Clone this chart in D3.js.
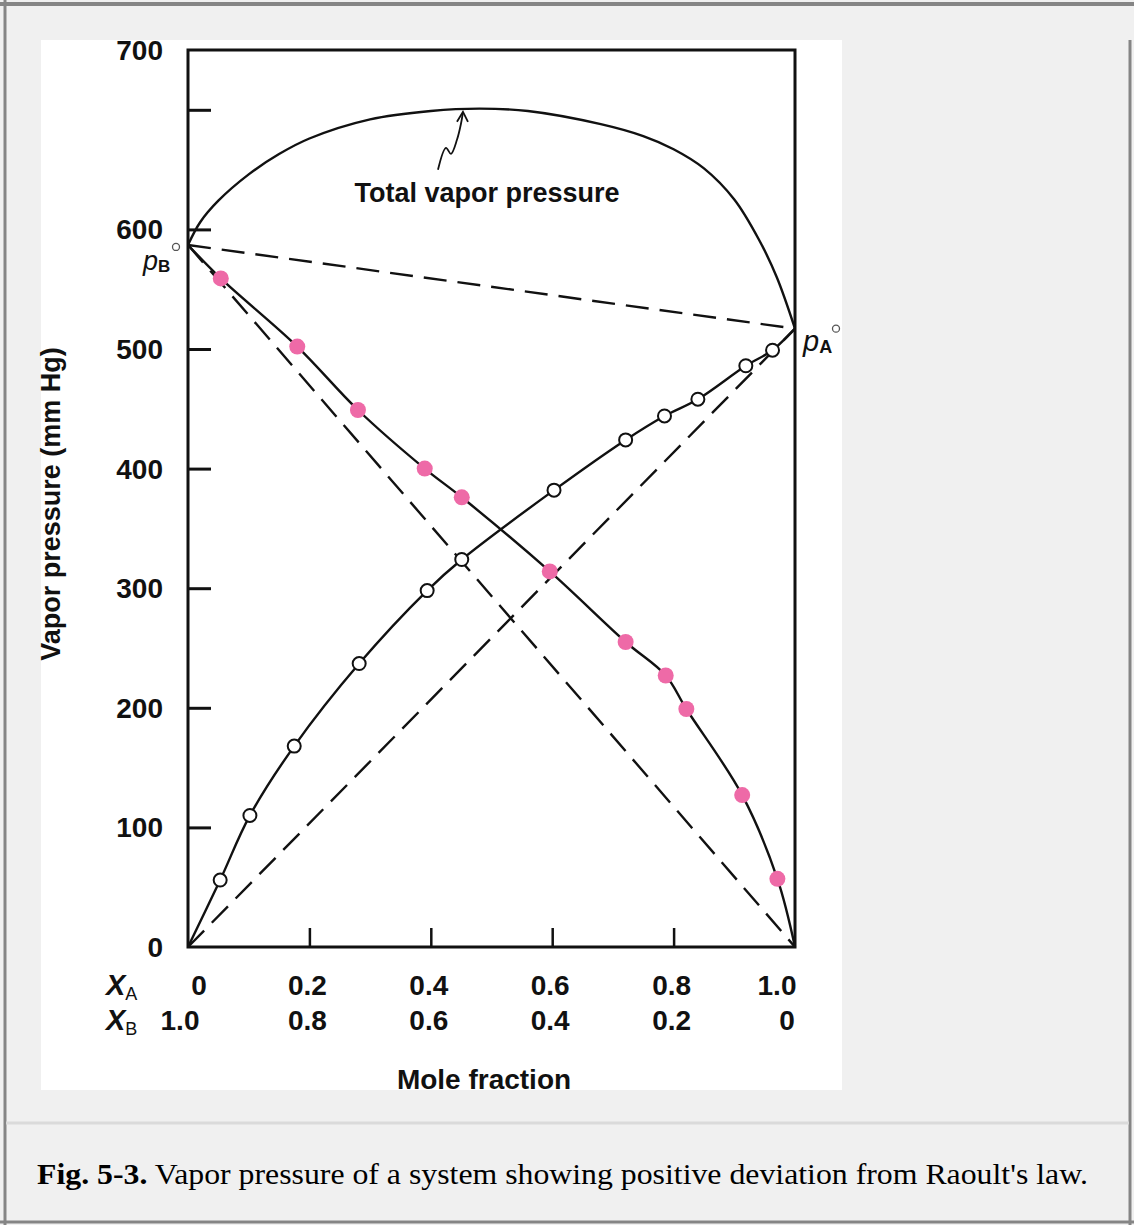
<!DOCTYPE html>
<html>
<head>
<meta charset="utf-8">
<script src="https://cdn.jsdelivr.net/npm/d3@7"></script>
<style>
  body { margin: 0; background: #f0f0f0; }
  svg { display: block; }
  .lbl { font-family: "Liberation Sans", Arial, sans-serif; font-weight: bold; fill: #111; }
</style>
</head>
<body>
<svg id="chart" width="1134" height="1225"></svg>
<script>
// Tick values and labels
var yTickMarks = [100, 200, 300, 400, 500, 600, 700];
var yTickLabels = ["0", "100", "200", "300", "400", "500", "600"];
var xTickMarks = [0.2, 0.4, 0.6, 0.8];
var xaLabels = ["0", "0.2", "0.4", "0.6", "0.8", "1.0"];
var xbLabels = ["1.0", "0.8", "0.6", "0.4", "0.2", "0"];
var xLabelPos = [0, 0.2, 0.4, 0.6, 0.8, 1.0];

// Pure component vapor pressures (mm Hg)
var pB0 = 587;
var pA0 = 517;

// Partial pressure of A (open circles)
var xA_A = [0.053, 0.102, 0.175, 0.282, 0.394, 0.451, 0.603, 0.721, 0.785, 0.840, 0.919, 0.963];
var pA = [56, 110, 168, 237, 298, 324, 382, 424, 444, 458, 486, 499];

// Partial pressure of B (pink dots)
var xA_B = [0.054, 0.180, 0.280, 0.390, 0.451, 0.596, 0.721, 0.787, 0.821, 0.913, 0.971];
var pB = [559, 502, 449, 400, 376, 314, 255, 227, 199, 127, 57];

// Total vapor pressure curve
var totalX = [0, 0.02, 0.05, 0.1, 0.15, 0.2, 0.3, 0.4, 0.48, 0.56, 0.68, 0.75, 0.8, 0.85, 0.9, 0.94, 0.97, 1.0];
var totalP = [587, 606, 624, 646, 663, 676, 692, 699, 701, 699, 688, 678, 667, 651, 625, 592, 560, 517];

var svg = d3.select('#chart');

// page frame
svg.append('rect').attr('x', 0).attr('y', 0).attr('width', 1134).attr('height', 1225).attr('fill', '#f0f0f0');
svg.append('line').attr('x1', 0).attr('x2', 1134).attr('y1', 4).attr('y2', 4).attr('stroke', '#858585').attr('stroke-width', 4);
svg.append('line').attr('x1', 5).attr('x2', 5).attr('y1', 0).attr('y2', 1225).attr('stroke', '#858585').attr('stroke-width', 3);
svg.append('line').attr('x1', 1130).attr('x2', 1130).attr('y1', 40).attr('y2', 1225).attr('stroke', '#858585').attr('stroke-width', 3);
svg.append('line').attr('x1', 0).attr('x2', 1134).attr('y1', 1222).attr('y2', 1222).attr('stroke', '#858585').attr('stroke-width', 3);
svg.append('line').attr('x1', 6).attr('x2', 1129).attr('y1', 1123).attr('y2', 1123).attr('stroke', '#dadada').attr('stroke-width', 3);
svg.append('rect').attr('x', 41).attr('y', 40).attr('width', 801).attr('height', 1050).attr('fill', '#fff');

var x = d3.scaleLinear().domain([0, 1]).range([188, 795]);
var y = d3.scaleLinear().domain([0, 750]).range([947, 50]);

var g = svg.append('g');

// inward ticks on the y axis
g.append('g')
  .attr('transform', 'translate(' + x(0) + ',0)')
  .call(d3.axisRight(y).tickValues(yTickMarks).tickSize(23).tickFormat(''))
  .call(function(s) { s.select('.domain').remove(); s.selectAll('line').attr('stroke', '#111').attr('stroke-width', 3); });

// inward ticks on the x axis
g.append('g')
  .attr('transform', 'translate(0,' + y(0) + ')')
  .call(d3.axisTop(x).tickValues(xTickMarks).tickSize(19).tickFormat(''))
  .call(function(s) { s.select('.domain').remove(); s.selectAll('line').attr('stroke', '#111').attr('stroke-width', 2.5); });

// y tick labels (the 700 label sits at the top of the frame)
g.selectAll('.ylab')
  .data(yTickLabels)
  .enter().append('text')
  .attr('class', 'lbl')
  .attr('x', x(0) - 25)
  .attr('y', function(d) { return y(+d); })
  .attr('dy', '0.36em')
  .attr('text-anchor', 'end')
  .attr('font-size', 28)
  .text(function(d) { return d; });
g.append('text').attr('class', 'lbl')
  .attr('x', x(0) - 25).attr('y', y(750)).attr('dy', '0.36em')
  .attr('text-anchor', 'end').attr('font-size', 28).text('700');

// dashed Raoult's law lines
var dash = '23,11';
function seg(x1, y1, x2, y2) {
  g.append('line')
    .attr('x1', x(x1)).attr('y1', y(y1)).attr('x2', x(x2)).attr('y2', y(y2))
    .attr('stroke', '#111').attr('stroke-width', 2.4).attr('stroke-dasharray', dash);
}
seg(0, 0, 1, pA0);
seg(0, pB0, 1, 0);
seg(0, pB0, 1, pA0);

// solid curves
var line = d3.line().x(function(d) { return x(d[0]); }).y(function(d) { return y(d[1]); }).curve(d3.curveCatmullRom.alpha(0.5));

var curveA = [[0, 0]].concat(xA_A.map(function(v, i) { return [v, pA[i]]; }), [[1, pA0]]);
var curveB = [[0, pB0]].concat(xA_B.map(function(v, i) { return [v, pB[i]]; }), [[1, 0]]);
var curveT = totalX.map(function(v, i) { return [v, totalP[i]]; });

[curveA, curveB, curveT].forEach(function(c) {
  g.append('path').attr('d', line(c)).attr('fill', 'none').attr('stroke', '#111').attr('stroke-width', 2.4);
});

// frame
g.append('rect')
  .attr('x', x(0)).attr('y', y(750))
  .attr('width', x(1) - x(0)).attr('height', y(0) - y(750))
  .attr('fill', 'none').attr('stroke', '#111').attr('stroke-width', 3);

// markers
g.selectAll('.ca')
  .data(xA_A)
  .enter().append('circle')
  .attr('cx', function(d) { return x(d); })
  .attr('cy', function(d, i) { return y(pA[i]); })
  .attr('r', 6.5)
  .attr('fill', '#fff').attr('stroke', '#111').attr('stroke-width', 2);

g.selectAll('.cb')
  .data(xA_B)
  .enter().append('circle')
  .attr('cx', function(d) { return x(d); })
  .attr('cy', function(d, i) { return y(pB[i]); })
  .attr('r', 8)
  .attr('fill', '#ee6aa7');

// p_B and p_A labels
var pb = g.append('text').attr('class', 'lbl').attr('x', x(0) - 45).attr('y', y(pB0) + 25).attr('font-size', 27);
pb.append('tspan').attr('font-style', 'italic').attr('font-weight', 'normal').text('p');
pb.append('tspan').attr('font-size', 17).attr('dy', 2).text('B');
g.append('circle').attr('cx', x(0) - 12).attr('cy', y(pB0) + 2).attr('r', 3.5).attr('fill', 'none').attr('stroke', '#555').attr('stroke-width', 1.3);

var pa = g.append('text').attr('class', 'lbl').attr('x', x(1) + 8).attr('y', y(pA0) + 22).attr('font-size', 29);
pa.append('tspan').attr('font-style', 'italic').attr('font-weight', 'normal').text('p');
pa.append('tspan').attr('font-size', 18).attr('dy', 2).text('A');
g.append('circle').attr('cx', x(1) + 41).attr('cy', y(pA0) + 0).attr('r', 3.5).attr('fill', 'none').attr('stroke', '#555').attr('stroke-width', 1.3);

// total vapor pressure annotation
g.append('text').attr('class', 'lbl')
  .attr('x', 487).attr('y', 202).attr('text-anchor', 'middle').attr('font-size', 27)
  .text('Total vapor pressure');

var tipX = x(0.453), tipY = y(700) + 2;
var wiggle = d3.line().curve(d3.curveCatmullRom);
g.append('path')
  .attr('d', wiggle([[tipX - 25, tipY + 58], [tipX - 17, tipY + 36], [tipX - 12, tipY + 42], [tipX - 6, tipY + 28], [tipX - 2, tipY + 12], [tipX, tipY]]))
  .attr('fill', 'none').attr('stroke', '#111').attr('stroke-width', 1.8);
g.append('path')
  .attr('d', 'M' + (tipX - 6) + ',' + (tipY + 10) + 'L' + tipX + ',' + tipY + 'L' + (tipX + 5) + ',' + (tipY + 10))
  .attr('fill', 'none').attr('stroke', '#111').attr('stroke-width', 1.8);

// y axis title
g.append('text').attr('class', 'lbl')
  .attr('transform', 'translate(60,' + 504 + ') rotate(-90)')
  .attr('text-anchor', 'middle').attr('font-size', 27)
  .text('Vapor pressure (mm Hg)');

// mole fraction rows
function rowTitle(sub, yy) {
  var t = g.append('text').attr('class', 'lbl').attr('x', 106).attr('y', yy).attr('font-size', 29);
  t.append('tspan').attr('font-style', 'italic').text('X');
  t.append('tspan').attr('font-size', 18).attr('dy', 5).attr('font-weight', 'normal').text(sub);
}
rowTitle('A', 995);
rowTitle('B', 1030);

g.selectAll('.xa')
  .data(xaLabels)
  .enter().append('text')
  .attr('class', 'lbl')
  .attr('x', function(d, i) { return x(xLabelPos[i]) + (i === 0 ? 11 : i === 5 ? -18 : -2); })
  .attr('y', 995)
  .attr('text-anchor', 'middle').attr('font-size', 28)
  .text(function(d) { return d; });

g.selectAll('.xb')
  .data(xbLabels)
  .enter().append('text')
  .attr('class', 'lbl')
  .attr('x', function(d, i) { return x(xLabelPos[i]) + (i === 0 ? -8 : i === 5 ? -8 : -2); })
  .attr('y', 1030)
  .attr('text-anchor', 'middle').attr('font-size', 28)
  .text(function(d) { return d; });

g.append('text').attr('class', 'lbl')
  .attr('x', 484).attr('y', 1089).attr('text-anchor', 'middle').attr('font-size', 28)
  .text('Mole fraction');

// caption
var cap = svg.append('text')
  .attr('x', 37).attr('y', 1184)
  .attr('font-family', '"Liberation Serif", "Times New Roman", serif')
  .attr('font-size', 30).attr('fill', '#000')
  .attr('textLength', 1051).attr('lengthAdjust', 'spacingAndGlyphs');
cap.append('tspan').attr('font-weight', 'bold').text('Fig. 5-3.');
cap.append('tspan').text(" Vapor pressure of a system showing positive deviation from Raoult's law.");
</script>
</body>
</html>
